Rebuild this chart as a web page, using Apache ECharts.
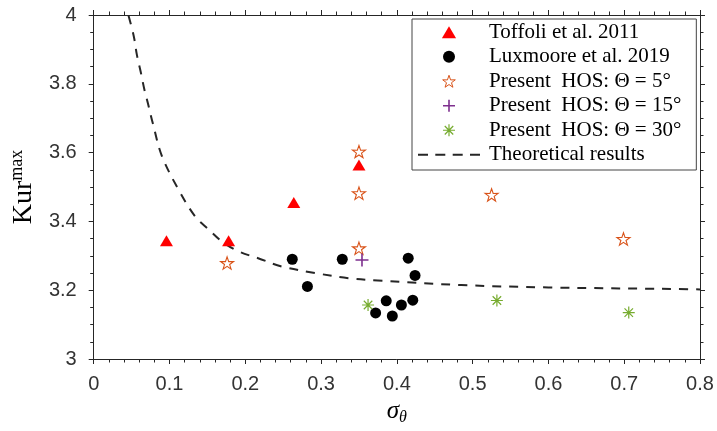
<!DOCTYPE html>
<html>
<head>
<meta charset="utf-8">
<script src="https://cdn.jsdelivr.net/npm/echarts@6/dist/echarts.min.js"></script>
<style>
  html, body { margin: 0; padding: 0; background: #fff; }
  #chart { width: 717px; height: 431px; }
</style>
</head>
<body>
<div id="chart"></div>
<script>
// Kurtosis maximum versus directional spreading width sigma_theta
const toffoliX = [0.096, 0.178, 0.264, 0.350];
const toffoliY = [3.344, 3.344, 3.455, 3.564];

const luxmooreX = [0.262, 0.328, 0.282, 0.415, 0.424, 0.372, 0.386, 0.394, 0.406, 0.421];
const luxmooreY = [3.290, 3.290, 3.211, 3.293, 3.243, 3.134, 3.169, 3.125, 3.157, 3.171];

const hos5X = [0.176, 0.350, 0.350, 0.350, 0.525, 0.699];
const hos5Y = [3.279, 3.322, 3.482, 3.603, 3.477, 3.349];

const hos15X = [0.354];
const hos15Y = [3.288];

const hos30X = [0.362, 0.532, 0.706];
const hos30Y = [3.157, 3.170, 3.135];

const theoryX = [0.046, 0.053, 0.057, 0.062, 0.067, 0.072, 0.078, 0.090, 0.112, 0.134, 0.152,
                 0.169, 0.191, 0.217, 0.248, 0.292, 0.336, 0.375, 0.485, 0.600, 0.787, 0.800];
const theoryY = [3.998, 3.937, 3.884, 3.835, 3.782, 3.739, 3.685, 3.590, 3.492, 3.414, 3.376,
                 3.342, 3.313, 3.293, 3.269, 3.250, 3.235, 3.228, 3.215, 3.208, 3.203, 3.202];

const xTicks = { min: 0, max: 0.8, step: 0.1 };
const yTicks = { min: 3, max: 4, step: 0.2 };

const seriesNames = [
  'Toffoli et al. 2011',
  'Luxmoore et al. 2019',
  'Present  HOS: \u0398 = 5\u00b0',
  'Present  HOS: \u0398 = 15\u00b0',
  'Present  HOS: \u0398 = 30\u00b0',
  'Theoretical results'
];

const pairs = (xs, ys) => xs.map((x, i) => [x, ys[i]]);

const TRIANGLE = 'path://M6.5,0 L13,11 L0,11 Z';
const STAR = 'path://M50,0 L61.8,35.1 L97.6,34.5 L68.8,56.4 L79.4,90.5 L50,70 L20.6,90.5 L31.2,56.4 L2.4,34.5 L38.2,35.1 Z';
const PLUS = 'path://M0,5 L10,5 M5,0 L5,10';
const ASTERISK = 'path://M5,0 L5,10 M0,5 L10,5 M1.46,1.46 L8.54,8.54 M1.46,8.54 L8.54,1.46';
// four short dashes used as the key for the dashed curve
const DASHES = 'path://M0,0 L10,0 L10,2 L0,2 Z M17.3,0 L27.3,0 L27.3,2 L17.3,2 Z ' +
               'M34.7,0 L44.7,0 L44.7,2 L34.7,2 Z M52,0 L62,0 L62,2 L52,2 Z';
const legendIcons = [TRIANGLE, 'circle', STAR, PLUS, ASTERISK, DASHES];
const legendStroke = [0, 0, 1, 1.6, 1.2, 0];

const axisColor = '#262626';
const labelFont = { fontFamily: 'Liberation Sans, Arial, sans-serif', fontSize: 20, color: '#333' };

function xAxisCfg(pos, withLabels) {
  return {
    type: 'value', position: pos, min: xTicks.min, max: xTicks.max, interval: xTicks.step,
    axisLine: { show: true, onZero: false, lineStyle: { color: axisColor, width: 1 } },
    axisTick: { show: true, inside: false, length: 5, lineStyle: { color: axisColor, width: 1 } },
    minorTick: { show: true, splitNumber: 5, length: 3.5, lineStyle: { color: axisColor, width: 1 } },
    splitLine: { show: false },
    axisLabel: Object.assign({ show: withLabels, margin: 15 }, labelFont),
    name: withLabels ? '{s|\u03c3}{t|\u03b8}' : '',
    nameLocation: 'middle',
    nameGap: 38,
    nameTextStyle: {
      rich: {
        s: { fontFamily: 'Liberation Serif, serif', fontStyle: 'italic', fontSize: 25, color: '#000' },
        t: { fontFamily: 'Liberation Serif, serif', fontStyle: 'italic', fontSize: 16, color: '#000', padding: [12, 0, 0, 0] }
      }
    }
  };
}

function yAxisCfg(pos, withLabels) {
  return {
    type: 'value', position: pos, min: yTicks.min, max: yTicks.max, interval: yTicks.step,
    axisLine: { show: true, onZero: false, lineStyle: { color: axisColor, width: 1 } },
    axisTick: { show: true, inside: false, length: 5, lineStyle: { color: axisColor, width: 1 } },
    minorTick: { show: true, splitNumber: 4, length: 3.5, lineStyle: { color: axisColor, width: 1 } },
    splitLine: { show: false },
    axisLabel: Object.assign({ show: withLabels, margin: 17 }, labelFont),
    name: withLabels ? '{k|Kur}{m|max}' : '',
    nameLocation: 'middle',
    nameGap: 50,
    nameRotate: 90,
    nameTextStyle: {
      rich: {
        k: { fontFamily: 'Liberation Serif, serif', fontSize: 28, color: '#000' },
        m: { fontFamily: 'Liberation Serif, serif', fontSize: 18, color: '#000', padding: [0, 0, 14, 0] }
      }
    }
  };
}

const chart = echarts.init(document.getElementById('chart'), null, { renderer: 'canvas' });

chart.setOption({
  animation: false,
  backgroundColor: '#fff',
  grid: { left: 91, right: 17, top: 15, bottom: 72, containLabel: false },
  xAxis: [xAxisCfg('bottom', true), xAxisCfg('top', false)],
  yAxis: [yAxisCfg('left', true), yAxisCfg('right', false)],
  legend: {
    orient: 'vertical',
    left: 412, top: 19,
    data: seriesNames.map((name, i) => ({
      name: name,
      icon: legendIcons[i],
      itemStyle: { borderWidth: legendStroke[i] }
    })),
    itemWidth: 62, itemHeight: 12, itemGap: 0,
    symbolKeepAspect: true,
    padding: [1, 15, 3, 6],
    backgroundColor: '#fff',
    borderColor: '#444', borderWidth: 1, borderRadius: 0,
    selectedMode: false,
    textStyle: {
      fontFamily: 'Liberation Serif, serif', fontSize: 21, color: '#000',
      lineHeight: 24.5, padding: [0, 0, 0, 4]
    }
  },
  series: [
    {
      name: seriesNames[0], type: 'scatter', data: pairs(toffoliX, toffoliY),
      symbol: 'triangle', symbolSize: [13, 11], symbolKeepAspect: true,
      itemStyle: { color: '#ff0000', opacity: 1 }, z: 3
    },
    {
      name: seriesNames[1], type: 'scatter', data: pairs(luxmooreX, luxmooreY),
      symbol: 'circle', symbolSize: 11,
      itemStyle: { color: '#000000', opacity: 1 }, z: 3
    },
    {
      name: seriesNames[2], type: 'scatter', data: pairs(hos5X, hos5Y),
      symbol: STAR, symbolSize: 13, symbolKeepAspect: true,
      itemStyle: { color: 'rgba(0,0,0,0)', borderColor: '#D95319', borderWidth: 1.1, opacity: 1 }, z: 4
    },
    {
      name: seriesNames[3], type: 'scatter', data: pairs(hos15X, hos15Y),
      symbol: PLUS, symbolSize: 13, symbolKeepAspect: true,
      itemStyle: { color: 'rgba(0,0,0,0)', borderColor: '#7E2F8E', borderWidth: 1.6, opacity: 1 }, z: 4
    },
    {
      name: seriesNames[4], type: 'scatter', data: pairs(hos30X, hos30Y),
      symbol: ASTERISK, symbolSize: 12, symbolKeepAspect: true,
      itemStyle: { color: 'rgba(0,0,0,0)', borderColor: '#77AC30', borderWidth: 1.2, opacity: 1 }, z: 4
    },
    {
      name: seriesNames[5], type: 'line', data: pairs(theoryX, theoryY),
      showSymbol: false, symbol: 'none', smooth: 0.35, clip: true,
      lineStyle: { color: '#262626', width: 2, type: [9, 8] },
      itemStyle: { color: '#262626' }, z: 2
    }
  ]
});
</script>
</body>
</html>
